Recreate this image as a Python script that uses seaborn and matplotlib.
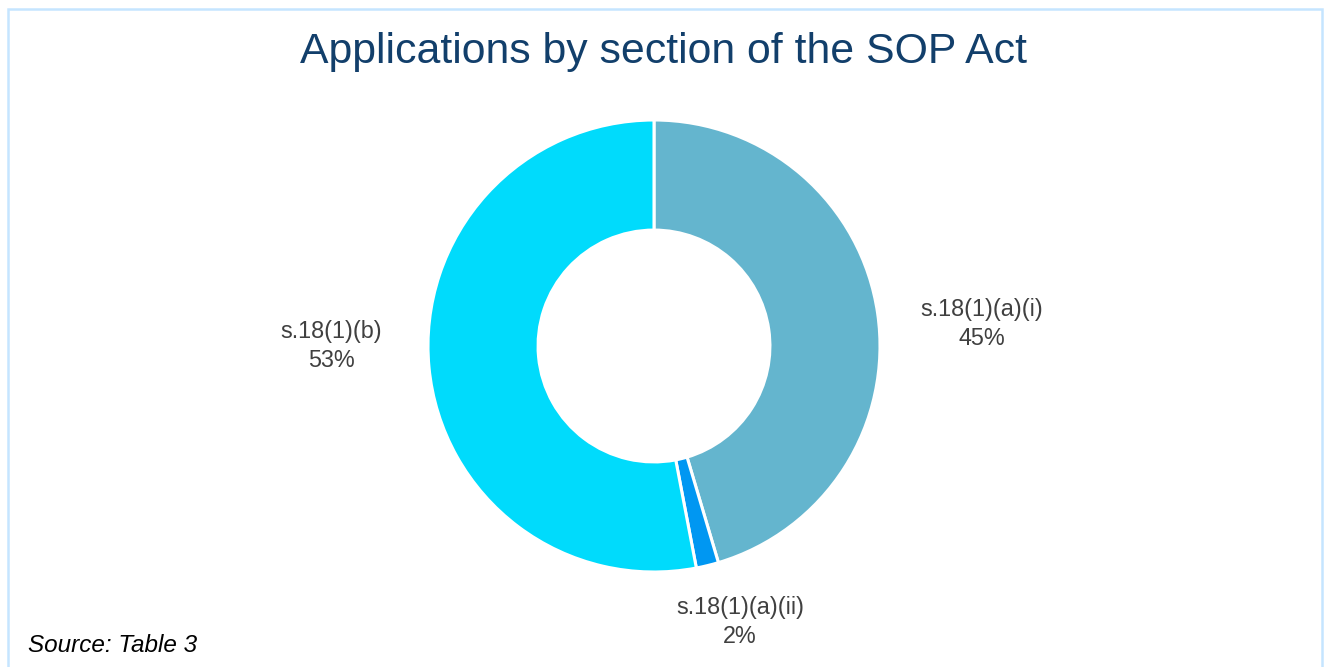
import matplotlib
matplotlib.use("Agg")
import matplotlib.pyplot as plt
from matplotlib.patches import Rectangle
import seaborn as sns

# data
sections = ["s.18(1)(a)(i)", "s.18(1)(a)(ii)", "s.18(1)(b)"]
shares = [45.4, 1.6, 53.0]
pct_labels = ["45%", "2%", "53%"]
colors = ["#64B5CE", "#0097F2", "#00DBFC"]

# label placement (in units of the outer radius)
label_pos = [(1.451, 0.097), (0.381, -1.221), (-1.429, 0.0)]

sns.set_theme(style="white")
plt.rcParams["font.family"] = ["Liberation Sans", "DejaVu Sans"]

W, H = 1324, 667
fig = plt.figure(figsize=(W / 100, H / 100), dpi=100)

# donut centre (654, 346) px, outer radius 226 px
cx, cy, r = 654, 346, 226
ax = fig.add_axes([(cx - r) / W, (H - cy - r) / H, 2 * r / W, 2 * r / H])
ax.pie(shares, colors=colors, startangle=90, counterclock=False, radius=1,
       wedgeprops=dict(width=0.487, edgecolor="white", linewidth=2.2))
ax.set_xlim(-1, 1)
ax.set_ylim(-1, 1)
ax.set_aspect("equal")
ax.axis("off")

for name, pct, (lx, ly) in zip(sections, pct_labels, label_pos):
    ax.text(lx, ly, f"{name}\n{pct}", ha="center", va="center", fontsize=16.8,
            color="#404040", linespacing=1.35, clip_on=False)

fig.text(664 / W, 1 - 52 / H, "Applications by section of the SOP Act",
         ha="center", va="center", fontsize=30.8, color="#123F6B")
fig.text(28 / W, 1 - 646 / H, "Source: Table 3", ha="left", va="center",
         fontsize=17.5, style="italic", color="black")

# light blue frame around the chart
fig.patches.append(Rectangle((8 / W, -0.05), (1321.5 - 8) / W, 1.05 - 8.5 / H,
                             transform=fig.transFigure, fill=False,
                             edgecolor="#C5E5FF", linewidth=1.8))

fig.savefig("out.png", dpi=100, facecolor="white")
